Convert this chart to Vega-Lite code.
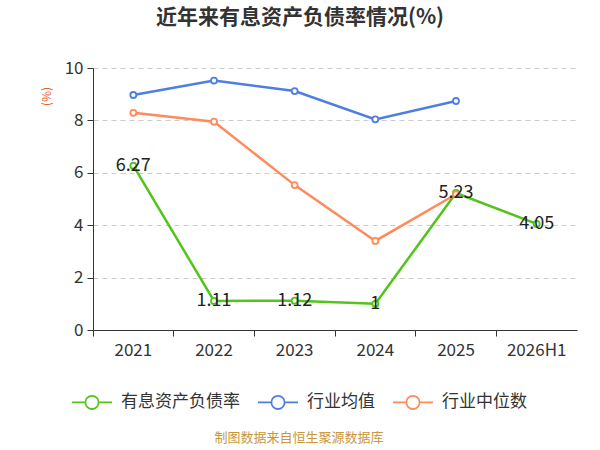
{
  "$schema": "https://vega.github.io/schema/vega-lite/v6.json",
  "autosize": "none",
  "width": 484,
  "height": 262,
  "padding": {"left": 93, "top": 68, "right": 23, "bottom": 120},
  "background": "white",
  "title": {
    "text": "近年来有息资产负债率情况(%)",
    "fontSize": 21,
    "fontWeight": "bold",
    "color": "#333333",
    "font": "Noto Sans CJK SC",
    "anchor": "middle",
    "dx": -35,
    "offset": 31
  },
  "config": {
    "font": "Noto Sans CJK SC",
    "view": {"stroke": null}
  },
  "data": {
    "values": [
      {"year": "2021", "series": "有息资产负债率", "value": 6.27},
      {"year": "2022", "series": "有息资产负债率", "value": 1.11},
      {"year": "2023", "series": "有息资产负债率", "value": 1.12},
      {"year": "2024", "series": "有息资产负债率", "value": 1.0},
      {"year": "2025", "series": "有息资产负债率", "value": 5.23},
      {"year": "2026H1", "series": "有息资产负债率", "value": 4.05},
      {"year": "2021", "series": "行业均值", "value": 8.97},
      {"year": "2022", "series": "行业均值", "value": 9.52},
      {"year": "2023", "series": "行业均值", "value": 9.12},
      {"year": "2024", "series": "行业均值", "value": 8.04},
      {"year": "2025", "series": "行业均值", "value": 8.74},
      {"year": "2021", "series": "行业中位数", "value": 8.29},
      {"year": "2022", "series": "行业中位数", "value": 7.95},
      {"year": "2023", "series": "行业中位数", "value": 5.53},
      {"year": "2024", "series": "行业中位数", "value": 3.40},
      {"year": "2025", "series": "行业中位数", "value": 5.18}
    ]
  },
  "encoding": {
    "x": {
      "field": "year",
      "type": "nominal",
      "sort": ["2021", "2022", "2023", "2024", "2025", "2026H1"],
      "scale": {"type": "band", "paddingInner": 0, "paddingOuter": 0},
      "axis": {
        "title": null,
        "labelAngle": 0,
        "labelFontSize": 17,
        "labelColor": "#333333",
        "labelPadding": 6,
        "domainColor": "#333333",
        "tickColor": "#333333",
        "tickSize": 6,
        "bandPosition": 0,
        "grid": false
      }
    },
    "y": {
      "field": "value",
      "type": "quantitative",
      "scale": {"domain": [0, 10]},
      "axis": {
        "title": "(%)",
        "titleColor": "#E8632C",
        "titleFontSize": 12,
        "titleFontWeight": "normal",
        "titleAngle": 270,
        "titleAlign": "center",
        "titleBaseline": "middle",
        "titleX": -47,
        "titleY": 28,
        "values": [0, 2, 4, 6, 8, 10],
        "labelFontSize": 17,
        "labelColor": "#333333",
        "labelPadding": 4,
        "domain": true,
        "domainColor": "#333333",
        "tickColor": "#333333",
        "tickSize": 6,
        "grid": true,
        "gridColor": "#cccccc",
        "gridDash": [5, 4]
      }
    }
  },
  "layer": [
    {
      "mark": {"type": "line", "strokeWidth": 2.5},
      "encoding": {
        "color": {
          "field": "series",
          "type": "nominal",
          "scale": {
            "domain": ["有息资产负债率", "行业均值", "行业中位数"],
            "range": ["#52C41A", "#4E7FE0", "#FF8A5B"]
          },
          "legend": {
            "orient": "none",
            "legendX": -22,
            "legendY": 313,
            "direction": "horizontal",
            "title": "制图数据来自恒生聚源数据库",
            "titleOrient": "bottom",
            "titleAnchor": "middle",
            "titleColor": "#C9973A",
            "titleFontSize": 13,
            "titleFontWeight": "normal",
            "titlePadding": 19,
            "labelFontSize": 17,
            "labelColor": "#333333",
            "labelOffset": 8,
            "columnPadding": 14,
            "symbolType": "M-1,0L-0.33,0M0.33,0L1,0M-0.33,0A0.33,0.33 0 1,1 0.33,0A0.33,0.33 0 1,1 -0.33,0",
            "symbolSize": 1600,
            "symbolStrokeWidth": 1.8,
            "symbolFillColor": "white"
          }
        }
      }
    },
    {
      "mark": {"type": "point", "filled": true, "fill": "white", "size": 36, "strokeWidth": 1.8, "opacity": 1},
      "encoding": {
        "stroke": {"field": "series", "type": "nominal", "legend": null, "scale": {
            "domain": ["有息资产负债率", "行业均值", "行业中位数"],
            "range": ["#52C41A", "#4E7FE0", "#FF8A5B"]
          }}
      }
    },
    {
      "transform": [{"filter": "datum.series === '有息资产负债率'"}],
      "mark": {"type": "text", "fontSize": 18, "color": "#222222", "align": "center", "baseline": "middle"},
      "encoding": {
        "text": {"field": "value", "type": "quantitative", "format": ".4~f"}
      }
    }
  ]
}
